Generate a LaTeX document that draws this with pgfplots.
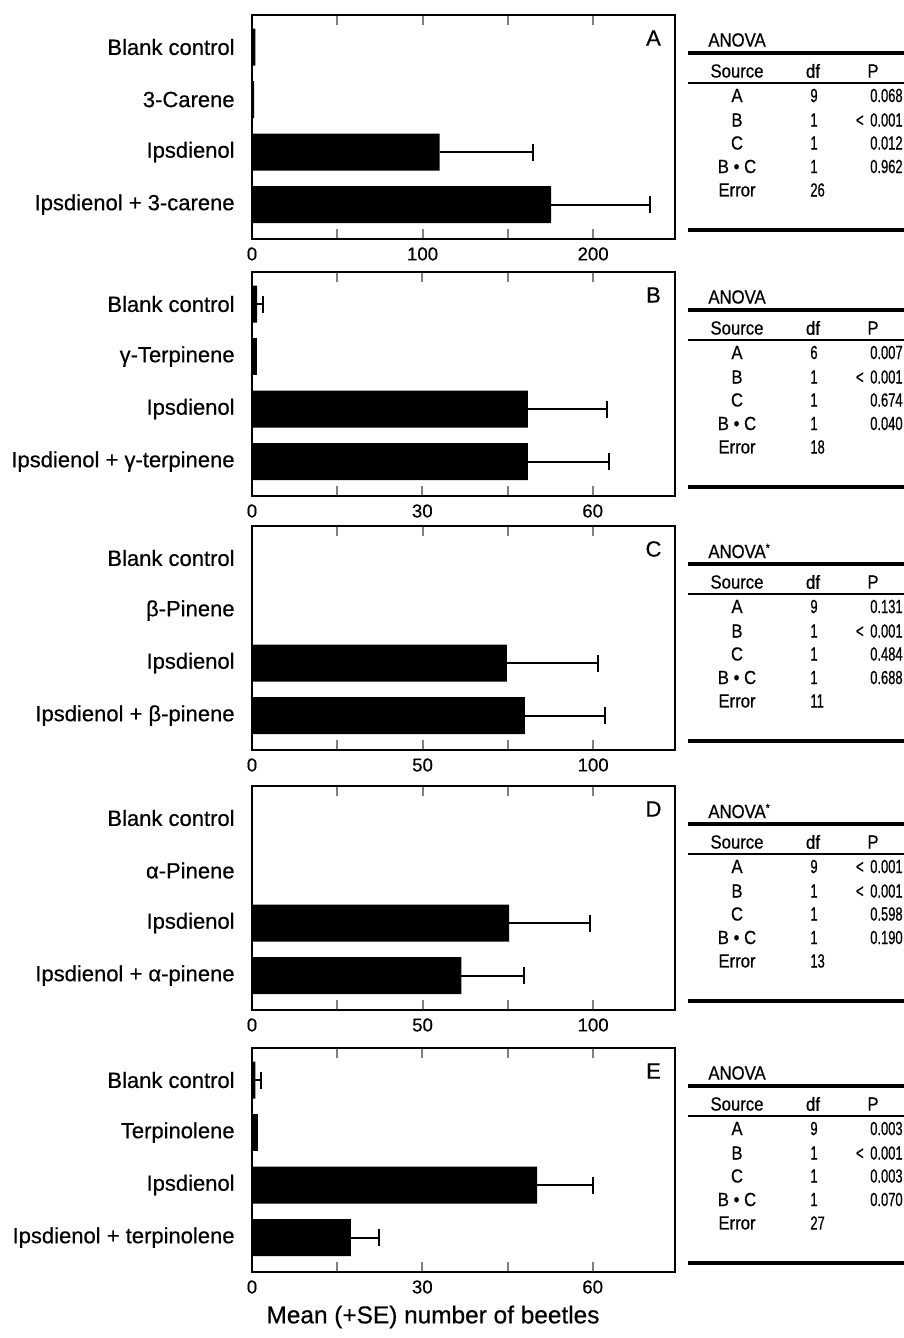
\documentclass[border=0pt]{standalone}
\usepackage{fontspec}
\setmainfont{Liberation Sans}[FakeBold=0.5]
\newfontfamily\tabletterfont[FakeStretch=0.88, FakeBold=0.6]{Liberation Sans}
\newfontfamily\tabnumfont[FakeStretch=0.68, FakeBold=0.6]{Liberation Sans}
\usepackage{pgfplots}
\pgfplotsset{compat=1.18}

\pgfplotsset{
  panel/.style={
    scale only axis, width=211.5pt, height=112pt,
    anchor=north west,
    y dir=reverse, ymin=-0.61, ymax=3.657,
    ytick={0,1,2,3},
    ytick style={draw=none},
    yticklabel style={font=\fontsize{11}{13}\selectfont, anchor=east, inner sep=0pt, xshift=-8.5pt},
    xmin=0,
    tick align=inside,
    major tick length=5pt,
    tick style={line width=1pt},
    axis line style={line width=1pt},
    xticklabel style={font=\fontsize{9.3}{11}\selectfont, inner sep=0pt, yshift=-4pt},
  },
  bars/.style={xbar, bar shift=0pt, bar width=18.5pt, fill=black, draw=none},
  ebars/.style={xbar, bar shift=0pt, bar width=18.5pt, fill=black, draw=none,
    error bars/.cd, x dir=plus, x explicit, error mark=|,
    error bar style={draw=black, solid, line width=1pt},
    error mark options={draw=black, solid, line width=1pt, mark size=4.25pt}},
}

\newcommand{\tabfs}{\fontsize{9.5}{11}\selectfont}
\newcommand{\anovahead}[2]{%
  \begin{scope}[x=0.5pt, y=-0.5pt, yshift=-#1*0.5pt, every node/.style={inner sep=0pt, font=\tabfs\tabletterfont}]
    \node[anchor=west] at (708,25) {#2};
    \draw[line width=2.2pt] (688,38) -- (904,38);
    \node at (737,56) {Source};
    \node at (813,56) {df};
    \node at (873,56) {P};
    \draw[line width=0.8pt] (688,68) -- (904,68);
    \node at (737,80.5) {A};
    \node at (737,105) {B};
    \node at (737,128) {C};
    \node at (737,151.5) {B • C};
    \node at (737,175) {Error};
    \draw[line width=2.3pt] (688,215) -- (904,215);
  \end{scope}}
\newcommand{\lt}{<\hspace{0.35em}}
\newcommand{\anovavals}[7]{%
  \begin{scope}[x=0.5pt, y=-0.5pt, yshift=-#1*0.5pt, every node/.style={inner sep=0pt, font=\tabfs\tabnumfont}]
    \node[anchor=west] at (810,80.5) {#2};
    \node[anchor=west] at (810,105) {1};
    \node[anchor=west] at (810,128) {1};
    \node[anchor=west] at (810,151.5) {1};
    \node[anchor=west] at (810,175) {#3};
    \node[anchor=east] at (903,80.5) {#4};
    \node[anchor=east] at (903,105) {#5};
    \node[anchor=east] at (903,128) {#6};
    \node[anchor=east] at (903,151.5) {#7};
  \end{scope}}
\newcommand{\panelletter}[2]{%
  \node[inner sep=0pt, font=\fontsize{11}{13}\selectfont] at (653.5*0.5pt, -#1*0.5pt-23*0.5pt) {#2};}

\begin{document}
\begin{tikzpicture}
\useasboundingbox (0,0) rectangle (452pt,-669pt);

% Panel A
\begin{axis}[panel, at={(126pt,-7.5pt)}, xmax=248,
  xtick={0,50,100,150,200}, xticklabels={0,,100,,200},
  yticklabels={Blank control,3-Carene,Ipsdienol,Ipsdienol + 3-carene}]
\addplot[bars] coordinates {(2,0) (1.2,1)};
\addplot[ebars] coordinates {(110,2) +- (54.6,0) (175.4,3) +- (58,0)};
\end{axis}
\panelletter{15}{A}
\anovahead{15}{ANOVA}
\anovavals{15}{9}{26}{0.068}{\lt 0.001}{0.012}{0.962}

% Panel B
\begin{axis}[panel, at={(126pt,-136pt)}, xmax=74.5,
  xtick={0,15,30,45,60}, xticklabels={0,,30,,60},
  yticklabels={Blank control,γ-Terpinene,Ipsdienol,Ipsdienol + γ-terpinene}]
\addplot[bars] coordinates {(0.9,1)};
\addplot[ebars] coordinates {(0.9,0) +- (1.0,0) (48.6,2) +- (14,0) (48.6,3) +- (14.2,0)};
\end{axis}
\panelletter{272}{B}
\anovahead{272}{ANOVA}
\anovavals{272}{6}{18}{0.007}{\lt 0.001}{0.674}{0.040}

% Panel C
\begin{axis}[panel, at={(126pt,-263pt)}, xmax=124,
  xtick={0,25,50,75,100}, xticklabels={0,,50,,100},
  yticklabels={Blank control,β-Pinene,Ipsdienol,Ipsdienol + β-pinene}]
\addplot[bars] coordinates {(0,0) (0,1)};
\addplot[ebars] coordinates {(74.7,2) +- (26.8,0) (80,3) +- (23.4,0)};
\end{axis}
\panelletter{526}{C}
\anovahead{526}{ANOVA\raisebox{0.6ex}{\fontsize{6}{7}\selectfont *}}
\anovavals{526}{9}{11}{0.131}{\lt 0.001}{0.484}{0.688}

% Panel D
\begin{axis}[panel, at={(126pt,-393pt)}, xmax=124,
  xtick={0,25,50,75,100}, xticklabels={0,,50,,100},
  yticklabels={Blank control,α-Pinene,Ipsdienol,Ipsdienol + α-pinene}]
\addplot[bars] coordinates {(0,0) (0,1)};
\addplot[ebars] coordinates {(75.4,2) +- (23.6,0) (61.4,3) +- (18.4,0)};
\end{axis}
\panelletter{786}{D}
\anovahead{786}{ANOVA\raisebox{0.6ex}{\fontsize{6}{7}\selectfont *}}
\anovavals{786}{9}{13}{\lt 0.001}{\lt 0.001}{0.598}{0.190}

% Panel E
\begin{axis}[panel, at={(126pt,-524pt)}, xmax=74.5,
  xtick={0,15,30,45,60}, xticklabels={0,,30,,60},
  yticklabels={Blank control,Terpinolene,Ipsdienol,Ipsdienol + terpinolene}]
\addplot[bars] coordinates {(1.0,1)};
\addplot[ebars] coordinates {(0.6,0) +- (1.0,0) (50.2,2) +- (9.9,0) (17.4,3) +- (4.9,0)};
\end{axis}
\panelletter{1048}{E}
\anovahead{1048}{ANOVA}
\anovavals{1048}{9}{27}{0.003}{\lt 0.001}{0.003}{0.070}

\node[inner sep=0pt, font=\fontsize{12.2}{14}\selectfont] at (216.5pt,-658.5pt) {Mean (+SE) number of beetles};
\end{tikzpicture}
\end{document}
